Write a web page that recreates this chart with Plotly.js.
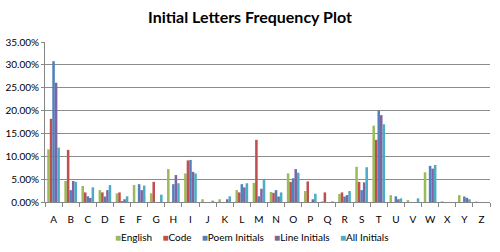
<!DOCTYPE html>
<html>
<head>
<meta charset="utf-8">
<script src="https://cdn.plot.ly/plotly-3.0.1.min.js"></script>
<style>html,body{margin:0;padding:0;background:#fff;}#chart{width:500px;height:252px;}</style>
</head>
<body>
<div id="chart"></div>
<script>
const letters = ["A","B","C","D","E","F","G","H","I","J","K","L","M","N","O","P","Q","R","S","T","U","V","W","X","Y","Z"];
const english = [11.5,4.6,3.5,2.6,1.9,3.7,1.9,7.2,6.25,0.6,0.6,2.6,4.2,2.2,6.25,2.4,0.15,1.75,7.7,16.7,1.5,0.4,6.5,0.15,1.5,0.1];
const code    = [18.2,11.4,2.1,2.1,2.1,0,4.4,0,9.1,0,0,2.1,13.6,2.0,4.4,4.5,2.1,2.1,4.4,13.6,0,0,0,0,0,0];
const poem    = [30.8,2.6,1.25,1.2,0.2,3.9,0,3.9,9.2,0,0,3.9,1.25,2.6,5.2,0,0,1.2,2.6,20.0,1.25,0,7.9,0,1.2,0];
const line    = [26.1,4.6,0.9,2.6,0.6,2.6,0,5.9,6.6,0,0.6,3.2,2.9,1.2,7.2,0.6,0,1.5,4.3,19.0,0.6,0,7.3,0,0.9,0];
const all     = [11.9,4.4,3.2,3.7,1.25,3.6,1.6,4.1,6.25,0.3,1.25,4.1,4.8,2.1,6.4,1.8,0.15,2.4,7.6,17.0,0.8,0.8,8.1,0,0.6,0];
const seriesNames = ["English","Code","Poem Initials","Line Initials","All Initials"];
const seriesColors = ["#9BBB59","#C0504D","#4F81BD","#8064A2","#4BACC6"];
const seriesData = [english, code, poem, line, all];

const traces = seriesData.map((d,i)=>({
  type:"bar", x:letters, y:d, name:seriesNames[i],
  marker:{color:seriesColors[i]}, hoverinfo:"skip", showlegend:false
}));

// compact legend drawn as one text annotation (Excel-style small squares)
const legendText = seriesNames.map((n,i)=>
  '<span style="color:'+seriesColors[i]+'">\u25A0</span>' + n).join('&nbsp;&nbsp;&nbsp;&nbsp;');

const layout = {
  width:500, height:252,
  margin:{l:45, r:10, t:42, b:50},
  paper_bgcolor:"#fff", plot_bgcolor:"#fff",
  font:{family:"Lato, 'Liberation Sans', sans-serif", size:10, color:"#000"},
  title:{text:"<b>Initial Letters Frequency Plot</b>", x:0.5, xanchor:"center", y:0.93, yanchor:"middle",
         font:{family:"Lato, 'Liberation Sans', sans-serif", size:16, color:"#000"}},
  barmode:"group", bargap:0.26, bargroupgap:0,
  showlegend:false,
  annotations:[{text:legendText, xref:"paper", yref:"paper", x:0.465, xanchor:"center",
                y:-0.22, yanchor:"middle", showarrow:false, font:{size:10, color:"#000"}}],
  xaxis:{type:"category", tickson:"boundaries", ticks:"outside", ticklen:4, tickcolor:"#868686",
         showline:true, linecolor:"#868686", linewidth:1, showgrid:false, tickangle:0, automargin:false,
         ticklabelstandoff:8, tickfont:{size:10}, fixedrange:true},
  yaxis:{range:[0,35], dtick:5, tickformat:".2f", ticksuffix:"%", showgrid:true, gridcolor:"#8c8c8c",
         gridwidth:1, showline:true, linecolor:"#868686", ticks:"outside", ticklen:3, tickcolor:"#868686",
         zeroline:false, tickfont:{size:10}, automargin:false, fixedrange:true}
};
Plotly.newPlot("chart", traces, layout, {displayModeBar:false, staticPlot:true});
</script>
</body>
</html>
